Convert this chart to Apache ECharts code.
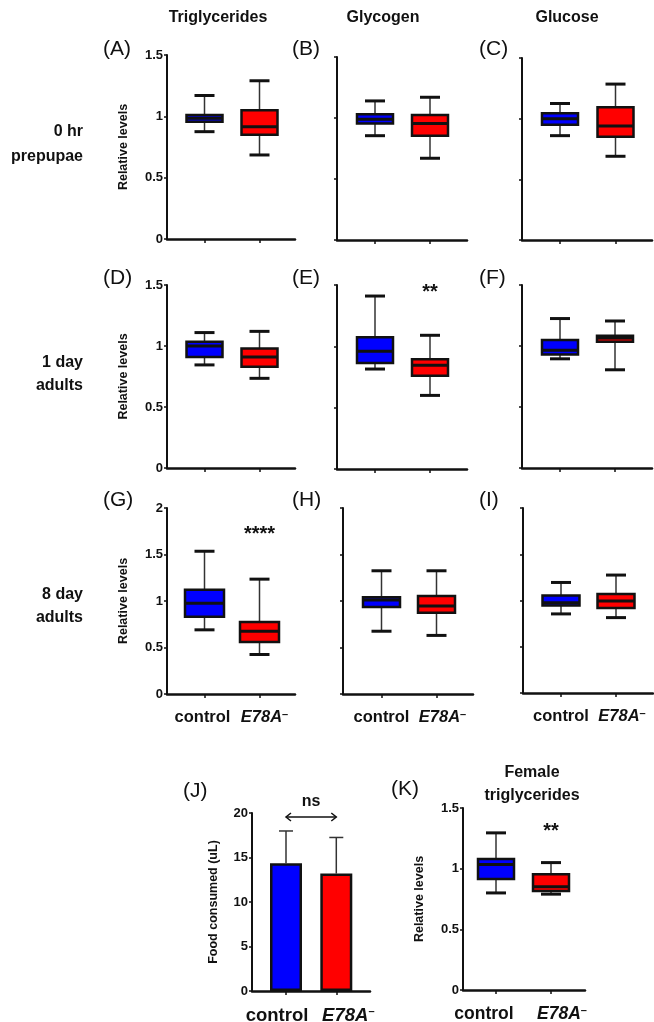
<!DOCTYPE html>
<html><head><meta charset="utf-8">
<script src="https://cdn.jsdelivr.net/npm/echarts@6/dist/echarts.min.js"></script>
<style>html,body{margin:0;padding:0;background:#fff}#c{width:654px;height:1022px}</style>
</head><body><div id="c"></div>
<script>
// ---------------- data ----------------
const categories = ['control', 'E78A'];
const boxColors = ['#0000ff', '#ff0000'];
const columnTitles = ['Triglycerides', 'Glycogen', 'Glucose'];
const rowLabels = [['0 hr', 'prepupae'], ['1 day', 'adults'], ['8 day', 'adults']];
// box stats: [min, q1, median, q3, max]
const A_control = [0.875, 0.955, 0.985, 1.01, 1.17];
const A_e78a    = [0.685, 0.85, 0.915, 1.05, 1.29];
const B_control = [0.855, 0.955, 0.99, 1.03, 1.14];
const B_e78a    = [0.67, 0.855, 0.955, 1.025, 1.17];
const C_control = [0.86, 0.95, 1.0, 1.045, 1.125];
const C_e78a    = [0.69, 0.85, 0.94, 1.095, 1.285];
const D_control = [0.845, 0.91, 1.0, 1.035, 1.11];
const D_e78a    = [0.735, 0.83, 0.91, 0.98, 1.12];
const E_control = [0.815, 0.865, 0.96, 1.075, 1.41];
const E_e78a    = [0.6, 0.76, 0.845, 0.895, 1.09];
const F_control = [0.895, 0.93, 0.965, 1.05, 1.225];
const F_e78a    = [0.805, 1.035, 1.065, 1.085, 1.205];
const G_control = [0.69, 0.83, 0.975, 1.12, 1.535];
const G_e78a    = [0.425, 0.56, 0.675, 0.775, 1.235];
const H_control = [0.675, 0.935, 1.01, 1.04, 1.325];
const H_e78a    = [0.63, 0.875, 0.945, 1.055, 1.325];
const I_control = [0.855, 0.945, 0.975, 1.055, 1.195];
const I_e78a    = [0.815, 0.92, 0.995, 1.07, 1.275];
const K_control = [0.8, 0.915, 1.035, 1.08, 1.295];
const K_e78a    = [0.79, 0.815, 0.85, 0.955, 1.05];
// panel J: food consumed (uL), mean and SD
const J_mean = [14.35, 13.2];
const J_sd   = [3.63, 4.05];
// significance marks: [panel, category index, y value, text]
const sigMarks = [['E', 1, 1.44, '**'], ['G', 1, 1.71, '****'], ['K', 1, 1.31, '**'], ['J', 0.5, 21.3, 'ns']];

// ---------------- layout ----------------
const FONT = "'Liberation Sans', Arial, Helvetica, sans-serif";
const panels = [
  { id: 'A', data: [A_control, A_e78a], g: [167, 55, 128, 184], ymax: 1.5, ylab: true, xlab: false, off: 37.5, unit: 55, bw: 36 },
  { id: 'B', data: [B_control, B_e78a], g: [337, 57, 130, 183], ymax: 1.5, ylab: false, xlab: false, off: 38, unit: 55, bw: 36 },
  { id: 'C', data: [C_control, C_e78a], g: [522, 58, 130, 182], ymax: 1.5, ylab: false, xlab: false, off: 38, unit: 55.5, bw: 36 },
  { id: 'D', data: [D_control, D_e78a], g: [167, 285, 128, 183], ymax: 1.5, ylab: true, xlab: false, off: 37.5, unit: 55, bw: 36 },
  { id: 'E', data: [E_control, E_e78a], g: [337, 285, 130, 184], ymax: 1.5, ylab: false, xlab: false, off: 38, unit: 55, bw: 36 },
  { id: 'F', data: [F_control, F_e78a], g: [522, 285, 130, 183], ymax: 1.5, ylab: false, xlab: false, off: 38, unit: 55, bw: 36 },
  { id: 'G', data: [G_control, G_e78a], g: [167, 508, 128, 186], ymax: 2, ylab: true, xlab: true, off: 37.5, unit: 55, bw: 39, lf: 16.5, shift: [-2, 5] },
  { id: 'H', data: [H_control, H_e78a], g: [343, 508, 130, 186], ymax: 2, ylab: false, xlab: true, off: 38.5, unit: 55, bw: 37, lf: 16.5, shift: [0, 6] },
  { id: 'I', data: [I_control, I_e78a], g: [523, 508, 130, 185], ymax: 2, ylab: false, xlab: true, off: 38, unit: 55, bw: 37, lf: 16.5, shift: [0, 6] },
  { id: 'K', data: [K_control, K_e78a], g: [463, 808, 122, 182], ymax: 1.5, ylab: true, xlab: true, off: 33, unit: 55, bw: 36, lf: 17.5, shift: [-12, 11] },
  { id: 'J', bar: true, g: [252, 813, 118, 178], ymax: 20, interval: 5, ylab: true, xlab: true, off: 34, unit: 50.3, bw: 32, lf: 18.5, shift: [-9, 12], yname: 'Food consumed (uL)' }
];

const grids = [], xAxes = [], yAxes = [], series = [];

panels.forEach((p, k) => {
  const [L, T, W, H] = p.g;
  const lf = p.lf || 17;
  grids.push({ left: L, top: T, width: W, height: H, outerBoundsMode: 'none', containLabel: false });
  const xmin = 1 - p.off / p.unit, xmax = 2 + (W - p.off - p.unit) / p.unit;
  const xi = xAxes.length;
  xAxes.push({
    gridIndex: k, type: 'value', min: xmin, max: xmax, position: 'bottom',
    axisLine: { show: true, lineStyle: { color: '#111', width: 2.5 } },
    axisTick: { show: true, customValues: [1, 2], length: 4, lineStyle: { color: '#111', width: 1.5 } },
    axisLabel: { show: false },
    splitLine: { show: false }
  });
  if (p.xlab) {
    // one label-only axis per category so the two labels are laid out independently
    [1, 2].forEach((c, ci) => {
      const s = p.shift[ci];
      const pad = s < 0 ? [0, -2 * s, 0, 0] : [0, 0, 0, 2 * s];
      xAxes.push({
        gridIndex: k, type: 'value', min: xmin, max: xmax, position: 'bottom', offset: 0,
        axisLine: { show: false }, axisTick: { show: false }, splitLine: { show: false },
        axisLabel: {
          show: true, customValues: [c], margin: 15,
          formatter: v => v === 1 ? '{n|' + categories[0] + '}' : '{i|' + categories[1] + '}{s|\u2013}',
          rich: {
            n: { fontFamily: FONT, fontWeight: 'bold', fontSize: lf, color: '#111', padding: pad },
            i: { fontFamily: FONT, fontWeight: 'bold', fontStyle: 'italic', fontSize: lf, color: '#111', padding: ci === 1 ? pad : 0 },
            s: { fontFamily: FONT, fontWeight: 'bold', fontSize: 11, color: '#111', verticalAlign: 'top', padding: [0, 0, 6, 0] }
          }
        }
      });
    });
  }
  yAxes.push({
    gridIndex: k, type: 'value', min: 0, max: p.ymax, interval: p.interval || 0.5,
    name: p.ylab ? (p.yname || 'Relative levels') : '', nameLocation: 'middle', nameGap: p.bar ? 32 : 37,
    nameTextStyle: { fontFamily: FONT, fontWeight: 'bold', fontSize: 12.5, color: '#111' },
    axisLine: { show: true, lineStyle: { color: '#111', width: 2 } },
    axisTick: { show: true, length: 3, lineStyle: { color: '#111', width: 1.5 } },
    axisLabel: { show: p.ylab, fontFamily: FONT, fontWeight: 'bold', fontSize: 13, color: '#111', margin: 4 },
    splitLine: { show: false }
  });

  if (p.bar) {
    series.push({
      type: 'bar', xAxisIndex: xi, yAxisIndex: k, barWidth: p.bw,
      data: J_mean.map((m, i) => ({ value: [i + 1, m], itemStyle: { color: boxColors[i], borderColor: '#111', borderWidth: 2.5 } })),
      z: 2
    });
    series.push({
      type: 'custom', xAxisIndex: xi, yAxisIndex: k, z: 1,
      data: J_mean.map((m, i) => [i + 1, m, m + J_sd[i]]),
      renderItem: (params, api) => {
        const a = api.coord([api.value(0), api.value(1)]);
        const b = api.coord([api.value(0), api.value(2)]);
        const st = { stroke: '#333', lineWidth: 1.5 };
        return { type: 'group', children: [
          { type: 'line', shape: { x1: a[0], y1: a[1], x2: b[0], y2: b[1] }, style: st },
          { type: 'line', shape: { x1: b[0] - 7, y1: b[1], x2: b[0] + 7, y2: b[1] }, style: st }
        ] };
      }
    });
    // double-headed arrow between the groups
    series.push({
      type: 'custom', xAxisIndex: xi, yAxisIndex: k, z: 3, clip: false,
      data: [[1, 2, 19.55]],
      renderItem: (params, api) => {
        const a = api.coord([api.value(0), api.value(2)]);
        const b = api.coord([api.value(1), api.value(2)]);
        const st = { stroke: '#111', lineWidth: 1.5, fill: null };
        return { type: 'group', children: [
          { type: 'line', shape: { x1: a[0], y1: a[1], x2: b[0], y2: b[1] }, style: st },
          { type: 'polyline', shape: { points: [[a[0] + 5, a[1] - 4], [a[0], a[1]], [a[0] + 5, a[1] + 4]] }, style: st },
          { type: 'polyline', shape: { points: [[b[0] - 5, b[1] - 4], [b[0], b[1]], [b[0] - 5, b[1] + 4]] }, style: st }
        ] };
      }
    });
  } else {
    const bw = p.bw;
    series.push({
      type: 'custom', xAxisIndex: xi, yAxisIndex: k,
      data: p.data.map((d, i) => [i + 1, ...d, i]),
      renderItem: (params, api) => {
        const x = api.value(0);
        const v = [1, 2, 3, 4, 5].map(j => api.value(j));
        const ci = api.value(6);
        const py = v.map(val => api.coord([x, val])[1]);
        const cx = api.coord([x, v[0]])[0];
        const hb = bw / 2, hc = 10;
        const dark = '#111';
        return { type: 'group', children: [
          { type: 'line', shape: { x1: cx, y1: py[0], x2: cx, y2: py[1] }, style: { stroke: '#333', lineWidth: 1.5 } },
          { type: 'line', shape: { x1: cx, y1: py[3], x2: cx, y2: py[4] }, style: { stroke: '#333', lineWidth: 1.5 } },
          { type: 'line', shape: { x1: cx - hc, y1: py[0], x2: cx + hc, y2: py[0] }, style: { stroke: dark, lineWidth: 3 } },
          { type: 'line', shape: { x1: cx - hc, y1: py[4], x2: cx + hc, y2: py[4] }, style: { stroke: dark, lineWidth: 3 } },
          { type: 'rect', shape: { x: cx - hb, y: py[3], width: bw, height: py[1] - py[3] }, style: { fill: boxColors[ci], stroke: dark, lineWidth: 2.5 } },
          { type: 'line', shape: { x1: cx - hb, y1: py[2], x2: cx + hb, y2: py[2] }, style: { stroke: dark, lineWidth: 3 } }
        ] };
      }
    });
  }
  // significance labels
  const marks = sigMarks.filter(m => m[0] === p.id);
  if (marks.length) {
    series.push({
      type: 'custom', xAxisIndex: xi, yAxisIndex: k, clip: false, z: 5,
      data: marks.map(m => [m[1] + 1, m[2]]),
      renderItem: (params, api) => {
        const c = api.coord([api.value(0), api.value(1)]);
        const txt = marks[params.dataIndex][3];
        const isNs = txt === 'ns';
        return { type: 'text', x: c[0], y: c[1], style: {
          text: txt, fill: '#111',
          font: isNs ? 'bold 16px ' + FONT : 'bold 20px ' + FONT,
          align: 'center', verticalAlign: 'middle', textAlign: 'center', textVerticalAlign: 'middle'
        } };
      }
    });
  }
});

// ---------------- static text ----------------
const titleFont = 'bold 16px ' + FONT;
const letterFont = '21px ' + FONT;
const graphic = [];
const colCenters = [218, 383, 567];
columnTitles.forEach((t, i) => graphic.push({ type: 'text', x: colCenters[i], y: 18, style: { text: t, font: titleFont, fill: '#111', align: 'center', verticalAlign: 'middle' } }));
const rowY = [[132, 157], [363, 386], [595, 618]];
rowLabels.forEach((r, i) => r.forEach((t, j) => graphic.push({ type: 'text', x: 83, y: rowY[i][j], style: { text: t, font: 'bold 16px ' + FONT, fill: '#111', align: 'right', verticalAlign: 'middle' } })));
const letters = [['(A)', 103, 49], ['(B)', 292, 49], ['(C)', 479, 49], ['(D)', 103, 278], ['(E)', 292, 278], ['(F)', 479, 278], ['(G)', 103, 500], ['(H)', 292, 500], ['(I)', 479, 500], ['(J)', 183, 791], ['(K)', 391, 789]];
letters.forEach(l => graphic.push({ type: 'text', x: l[1], y: l[2], style: { text: l[0], font: letterFont, fill: '#111', align: 'left', verticalAlign: 'middle' } }));
graphic.push({ type: 'text', x: 532, y: 773, style: { text: 'Female', font: titleFont, fill: '#111', align: 'center', verticalAlign: 'middle' } });
graphic.push({ type: 'text', x: 532, y: 796, style: { text: 'triglycerides', font: titleFont, fill: '#111', align: 'center', verticalAlign: 'middle' } });

const chart = echarts.init(document.getElementById('c'), null, { renderer: 'canvas' });
chart.setOption({
  backgroundColor: '#fff',
  animation: false,
  grid: grids, xAxis: xAxes, yAxis: yAxes, series: series, graphic: graphic
});
</script></body></html>
